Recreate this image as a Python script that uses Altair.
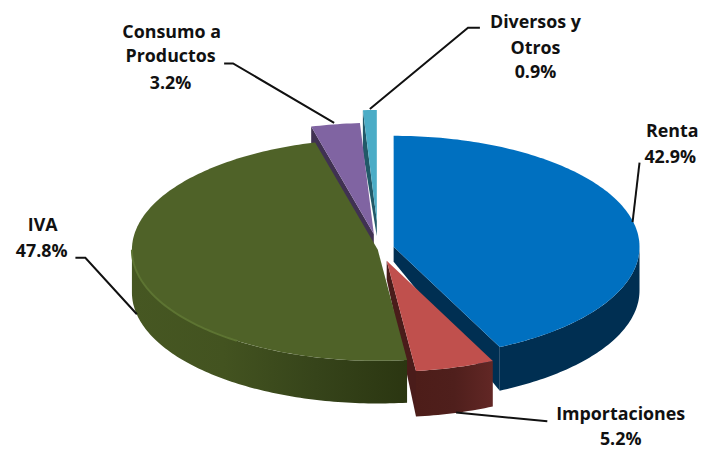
import math
import altair as alt
import pandas as pd

names = ["Renta", "Importaciones", "IVA", "Consumo a Productos", "Diversos y Otros"]
shares = [42.9, 5.2, 47.8, 3.2, 0.9]

FONT = "Open Sans"
RX, RY, DEPTH = 248, 112, 44
total = sum(shares)
bounds = [0]
for s in shares:
    bounds.append(bounds[-1] + s / total * 360)


def rim(c, t, dy=0):
    a = math.radians(t)
    return [c[0] + RX * math.sin(a), c[1] - RY * math.cos(a) + dy]


def arc(c, t1, t2, dy=0):
    n = max(2, int(abs(t2 - t1)))
    return [rim(c, t1 + (t2 - t1) * i / n, dy) for i in range(n + 1)]


def poly(pts, fill):
    feature = {"type": "Feature", "properties": {},
               "geometry": {"type": "Polygon", "coordinates": [pts + [pts[0]]]}}
    return alt.Chart(alt.Data(values=[feature])).mark_geoshape(
        fill=fill, strokeWidth=0, stroke="transparent"
    ).project(type="identity", scale=1, translate=[-8, -8])


def stroke(pts, color, width=2):
    feature = {"type": "Feature", "properties": {},
               "geometry": {"type": "LineString", "coordinates": pts}}
    return alt.Chart(alt.Data(values=[feature])).mark_geoshape(
        filled=False, stroke=color, strokeWidth=width, fill="transparent"
    ).project(type="identity", scale=1, translate=[-8, -8])


def grad(*stops):
    n = len(stops) - 1
    return alt.Gradient(gradient="linear", x1=0, x2=1, y1=0, y2=0,
                        stops=[alt.GradientStop(offset=i / n, color=c) for i, c in enumerate(stops)])


def wall(c, t, apex_depth, depth=DEPTH):
    return [list(c), rim(c, t), rim(c, t, depth), [c[0], c[1] + apex_depth]]


def side(c, t1, t2, depth=DEPTH):
    return arc(c, t1, t2) + arc(c, t2, t1, depth)


def wedge(c, t1, t2):
    return [list(c)] + arc(c, t1, t2)


c_blue, c_red, c_green, c_purple, c_cyan = (397, 247), (390, 261), (381, 250), (377, 234), (380, 221)

layers = [
    # Diversos y Otros
    poly(wall(c_cyan, bounds[4], 15, 42), "#215968"),
    poly(wedge(c_cyan, bounds[4], bounds[5]), "#4bacc6"),
    # Consumo a Productos
    poly(wall(c_purple, bounds[3], 15, 42), "#403152"),
    poly(wedge(c_purple, bounds[3], bounds[4]), "#8064a2"),
    # Renta
    poly(wall(c_blue, bounds[1], 15), "#002f52"),
    poly(side(c_blue, 90, bounds[1]), "#002f52"),
    poly(wedge(c_blue, bounds[0], bounds[1]), "#0070c0"),
    # Importaciones
    poly(wall(c_red, bounds[2], 19, 46), "#4a1c1a"),
    poly(side(c_red, bounds[1], bounds[2], 46), grad("#4d1d19", "#4f1f1c", "#622725")),
    poly(wedge(c_red, bounds[1], bounds[2]), "#c0504d"),
    # IVA
    poly(side(c_green, bounds[2], 270, 43), grad("#465722", "#435320", "#36441a", "#2b3611")),
    poly(wedge(c_green, bounds[2], bounds[3]), "#4f6228"),
    stroke(arc(c_green, 215, 270), "#5d7432", 2),
]

leaders = [
    [(645, 162), (638, 222)],
    [(460, 414), (552, 423)],
    [(76, 258), (86, 258), (138, 315)],
    [(226, 62), (235, 62), (337, 122)],
    [(484, 26), (472, 26), (373, 108)],
]
for line in leaders:
    layers.append(stroke([list(p) for p in line], "#111111", 2))

label_lines = [
    ("Renta", 678, 131), (f"{shares[0]}%", 676, 157),
    ("Importaciones", 626, 417), (f"{shares[1]}%", 626, 442),
    ("IVA", 43, 226), (f"{shares[2]}%", 42, 252),
    ("Consumo a", 173, 31), ("Productos", 172, 56), (f"{shares[3]}%", 172, 83),
    ("Diversos y", 540, 21), ("Otros", 540, 47), (f"{shares[4]}%", 540, 72),
]
for text, x, y in label_lines:
    layers.append(
        alt.Chart(pd.DataFrame({"t": [text]})).mark_text(
            font=FONT, fontWeight="bold", fontSize=18, color="#111111",
            align="center", baseline="middle"
        ).encode(text="t:N", x=alt.value(x - 8), y=alt.value(y - 8))
    )

chart = alt.layer(*layers).properties(
    width=691, height=433, padding=0, background="white"
).configure_view(stroke=None)

chart.save("out.html", embed_options={"renderer": "svg", "actions": False})
